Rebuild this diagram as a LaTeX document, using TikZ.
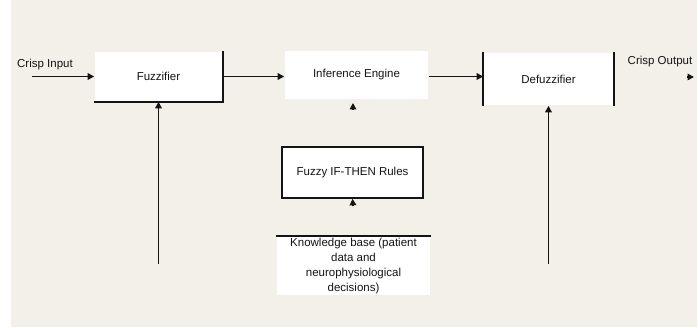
\documentclass[tikz,border=0pt]{standalone}
\usepackage{fontspec}
\setmainfont{Liberation Sans}
\usetikzlibrary{arrows.meta}
\definecolor{bg}{HTML}{F3F0EA}
\definecolor{ink}{HTML}{141414}
\begin{document}
\begin{tikzpicture}[x=1pt,y=-1pt,line width=1.6pt,
  arr/.style={-{Triangle[length=6.5pt,width=6.5pt]}},
  txt/.style={font=\fontsize{11.5}{15}\selectfont,text=ink,inner sep=0pt},
  wbox/.style={txt,fill=white}]
\fill[white] (0,0) rectangle (698,328);
\fill[bg] (11,0) rectangle (697,327);
\useasboundingbox (0,0) rectangle (698,328);

% blocks
\node[wbox,minimum width=127pt,minimum height=49pt] (fuzz) at (158.5,76.5) {Fuzzifier};
\node[wbox,minimum width=143pt,minimum height=48pt] (ie) at (356.5,75) {Inference Engine};
\node[wbox,minimum width=129pt,minimum height=52pt] (defuzz) at (548.5,79) {Defuzzifier};
\node[txt,draw=ink,fill=white,minimum width=141pt,minimum height=51pt] (rules) at (352.5,172.5) {Fuzzy IF-THEN Rules};
\node[txt,fill=white,align=center,minimum width=153pt,minimum height=58pt] (kb) at (353.5,266)
  {Knowledge base (patient\\data and\\neurophysiological\\decisions)};

% labels
\node[txt] (cin) at (45,65) {Crisp Input};
\node[txt] (cout) at (660,62) {Crisp Output};

% block edges
\draw[ink] (fuzz.south west) -- (fuzz.south east) -- (fuzz.north east);
\draw[ink] (defuzz.north west) -- (defuzz.south west);
\draw[ink] (defuzz.north east) -- (defuzz.south east);
\draw[ink] (kb.north west) -- (kb.north east);

% coordinates
\coordinate (cinstart) at (32,76.5);
\coordinate (coa) at (687,77);
\coordinate (cob) at (694,77);
\coordinate (iea) at (353,110);
\coordinate (ieb) at (353,103);
\coordinate (ra) at (353,206);
\coordinate (fb) at (158.5,264);
\coordinate (db) at (548.5,264);

% connectors
\draw[ink,arr] (cinstart) -- (fuzz.west);
\draw[ink,arr] (fuzz.east) -- (fuzz.east -| ie.west);
\draw[ink,arr] (ie.east |- fuzz.east) -- (defuzz.west |- fuzz.east);
\draw[ink,arr] (coa) -- (cob);
\draw[ink,arr] (iea) -- (ieb);
\draw[ink,arr] (ra) -- (rules.south);
\draw[ink,arr] (fb) -- (fuzz.south);
\draw[ink,arr] (db) -- (defuzz.south);
\end{tikzpicture}
\end{document}
